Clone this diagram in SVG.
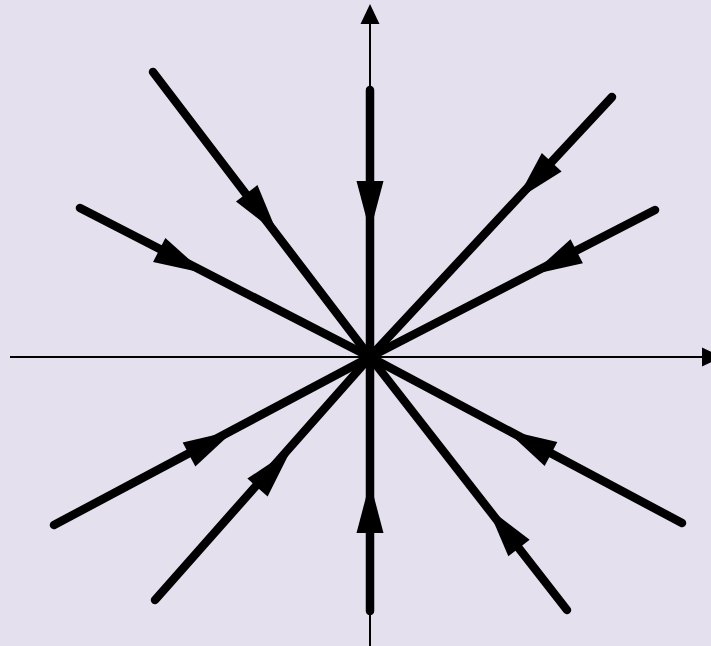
<svg xmlns="http://www.w3.org/2000/svg" xmlns:xlink="http://www.w3.org/1999/xlink" width="711" height="646" viewBox="0 0 711 646">
<style>
.ax{stroke:#000;stroke-width:2;fill:none}
.tr{stroke:#000;stroke-width:8.5;stroke-linecap:round;fill:none}
.ah{fill:#000}
</style>
<defs>
<path id="ah" d="M0,-13.5 L51,0 L0,13.5 Z"/>
</defs>
<rect width="711" height="646" fill="#e4e0ee"/>
<g id="axes">
<line class="ax" x1="10" y1="357" x2="704" y2="357"/>
<polygon class="ah" points="702,347.5 722,357 702,366.5"/>
<line class="ax" x1="370" y1="646" x2="370" y2="22"/>
<polygon class="ah" points="360.5,24 370,4 379.5,24"/>
</g>
<g id="trajectories">
<line class="tr" x1="153" y1="72" x2="370" y2="357"/>
<line class="tr" x1="80" y1="208" x2="370" y2="357"/>
<line class="tr" x1="370" y1="90" x2="370" y2="357"/>
<line class="tr" x1="612" y1="97" x2="370" y2="357"/>
<line class="tr" x1="655" y1="210" x2="370" y2="357"/>
<line class="tr" x1="54" y1="525" x2="370" y2="357"/>
<line class="tr" x1="155" y1="600" x2="370" y2="357"/>
<line class="tr" x1="370" y1="611" x2="370" y2="357"/>
<line class="tr" x1="567" y1="610" x2="370" y2="357"/>
<line class="tr" x1="682" y1="523" x2="370" y2="357"/>
</g>
<g id="arrowheads" class="ah">
<use xlink:href="#ah" transform="translate(246.7,193.3) rotate(52.71)"/>
<use xlink:href="#ah" transform="translate(159.2,250) rotate(27.19)"/>
<use xlink:href="#ah" transform="translate(370,181) rotate(90)"/>
<use xlink:href="#ah" transform="translate(551.7,162.2) rotate(132.94)"/>
<use xlink:href="#ah" transform="translate(576.7,251.3) rotate(152.72)"/>
<use xlink:href="#ah" transform="translate(189,454.5) rotate(-28)"/>
<use xlink:href="#ah" transform="translate(257.5,487.5) rotate(-48.5)"/>
<use xlink:href="#ah" transform="translate(370,533) rotate(-90)"/>
<use xlink:href="#ah" transform="translate(519,548) rotate(-127.9)"/>
<use xlink:href="#ah" transform="translate(551,454) rotate(-152)"/>
</g>
</svg>
